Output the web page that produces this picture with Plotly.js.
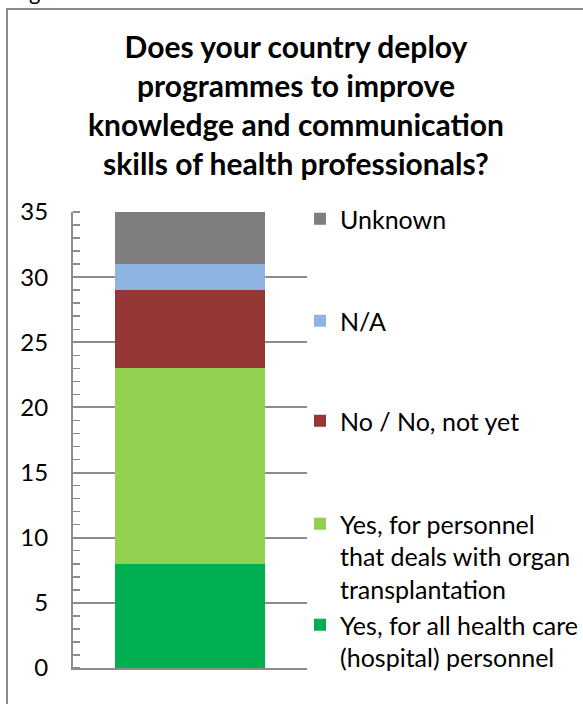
<!DOCTYPE html>
<html><head><meta charset="utf-8">
<script src="https://cdn.plot.ly/plotly-3.0.1.min.js"></script>
<style>
html,body{margin:0;padding:0;background:#fff;overflow:hidden;width:583px;height:704px}
#frame{position:absolute;left:6px;top:8px;width:640px;height:760px;border:2px solid #8a8a8a;box-sizing:border-box}
#chart{position:absolute;left:0;top:0;width:583px;height:704px}
</style></head><body>
<div id="frame"></div>
<div id="chart"></div>
<script>
// ---- data ----
const categories = ['Countries'];
const seriesNames = [
  'Yes, for all health care<br>(hospital) personnel',
  'Yes, for personnel<br>that deals with organ<br>transplantation',
  'No / No, not yet',
  'N/A',
  'Unknown'
];
const seriesValues = [8, 15, 6, 2, 4];
const yTickValues = [0, 5, 10, 15, 20, 25, 30, 35];
const yTickLabels = ['0', '5', '10', '15', '20', '25', '30', '35'];
const titleText = 'Does your country deploy<br>programmes to improve<br>knowledge and communication<br>skills of health professionals?';

// ---- styles ----
const colors = ['#00B050', '#92D050', '#953735', '#8DB4E2', '#7F7F7F'];
const W = 583, H = 704;
const PL = 73, PR = 307, PT = 212, PB = 668;
const FONT = 'Lato, "Open Sans", sans-serif';
const gray = '#8c8c8c';
const px2x = p => (p - PL) / (PR - PL);
const py2y = p => (PB - p) / (PB - PT);
// legend top positions (pixels) for each series
const legendTops = [602, 501, 398, 298, 196];
const legendLeft = 300;

const traces = seriesValues.map((v, i) => ({
  type: 'bar',
  x: categories,
  y: [v],
  name: seriesNames[i],
  marker: {color: colors[i], line: {width: 0}},
  legend: i === 0 ? 'legend' : 'legend' + (i + 1),
  hoverinfo: 'skip'
}));

const layout = {
  width: W, height: H,
  margin: {l: PL, r: W - PR, t: PT, b: H - PB, pad: 0, autoexpand: false},
  paper_bgcolor: 'rgba(0,0,0,0)',
  plot_bgcolor: 'rgba(0,0,0,0)',
  barmode: 'stack',
  bargap: 0.355,
  font: {family: FONT, color: '#000', size: 24},
  title: {
    text: titleText,
    font: {family: FONT, size: 30, color: '#000', weight: 'bold'},
    x: 296 / W, xanchor: 'center', xref: 'container',
    y: 1 - 58 / H, yanchor: 'middle', yref: 'container'
  },
  xaxis: {
    showticklabels: false, ticks: '', showgrid: false,
    showline: true, linecolor: gray, linewidth: 2, zeroline: false,
    fixedrange: true
  },
  yaxis: {
    range: [0, 35],
    tickvals: yTickValues, ticktext: yTickLabels,
    tickfont: {family: FONT, size: 24, color: '#000'},
    ticks: '', ticklabelstandoff: 18,
    showgrid: true, gridcolor: gray, gridwidth: 2,
    showline: true, linecolor: gray, linewidth: 2,
    zeroline: false,
    minor: {dtick: 1, ticks: 'inside', ticklen: 7, tickcolor: gray, tickwidth: 1.5, showgrid: false},
    fixedrange: true
  },
  showlegend: true,
  annotations: [{
    text: 'g', showarrow: false, xref: 'paper', yref: 'paper',
    x: px2x(34), y: py2y(-9), xanchor: 'center', yanchor: 'middle',
    font: {family: FONT, size: 22, color: '#000'}
  }]
};
seriesNames.forEach((n, i) => {
  const key = i === 0 ? 'legend' : 'legend' + (i + 1);
  layout[key] = {
    x: px2x(legendLeft), xanchor: 'left',
    y: py2y(legendTops[i]), yanchor: 'top',
    bgcolor: 'rgba(0,0,0,0)', borderwidth: 0,
    valign: 'top', itemclick: false, itemdoubleclick: false,
    font: {family: FONT, size: 25, color: '#000'}
  };
});

Plotly.newPlot('chart', traces, layout, {displayModeBar: false, staticPlot: true});
</script>
</body></html>
